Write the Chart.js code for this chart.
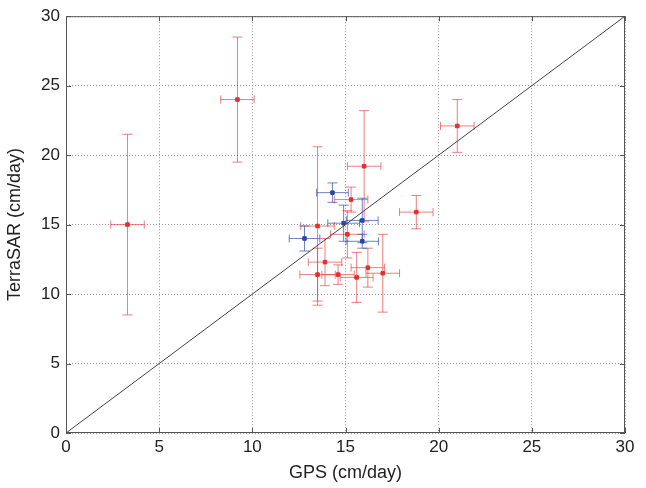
<!DOCTYPE html>
<html>
<head>
<meta charset="utf-8">
<script src="https://cdn.jsdelivr.net/npm/chart.js@4"></script>
<style>
  html, body { margin: 0; padding: 0; background: #fff; }
  #wrap { width: 646px; height: 488px; }
</style>
</head>
<body>
<div id="wrap"><canvas id="grafico" width="646" height="488"></canvas></div>
<script>
// valores (cm/dia)
const gpsRed = [3.3, 9.2, 21.0, 18.8, 16.0, 15.3, 13.5, 15.1, 13.9, 13.5, 14.6, 15.6, 16.2, 17.0];
const tsxRed = [15.0, 24.0, 22.1, 15.9, 19.2, 16.8, 14.9, 14.3, 12.3, 11.4, 11.4, 11.2, 11.9, 11.5];
const gpsRedErr = [0.9, 0.9, 0.9, 0.9, 0.9, 0.9, 0.9, 0.9, 0.9, 0.95, 0.87, 0.88, 0.9, 0.9];
const tsxRedErr = [6.5, 4.5, 1.9, 1.2, 4.0, 0.9, 5.7, 1.7, 1.7, 1.9, 0.7, 1.8, 1.4, 2.8];

const gpsBlue = [14.3, 14.9, 15.9, 12.8, 15.9];
const tsxBlue = [17.3, 15.1, 15.3, 14.0, 13.8];
const gpsBlueErr = [0.85, 0.85, 0.85, 0.82, 0.87];
const tsxBlueErr = [0.7, 1.3, 1.6, 0.9, 0.5];

const axisTicks = [0, 5, 10, 15, 20, 25, 30];

const toPoints = (xs, ys) => xs.map((x, i) => ({ x: x, y: ys[i] }));

// barras de erro desenhadas com as escalas do Chart.js
const errorBars = {
    id: "errorBars",
    beforeDatasetsDraw(chart) {
        const ctx = chart.ctx;
        const xs = chart.scales.x, ys = chart.scales.y;
        chart.data.datasets.forEach(ds => {
            if (!ds.xErr) return;
            ctx.save();
            ctx.strokeStyle = ds.errColor;
            ctx.lineWidth = 1;
            ds.data.forEach((p, i) => {
                const cx = xs.getPixelForValue(p.x), cy = ys.getPixelForValue(p.y);
                const x1 = xs.getPixelForValue(p.x - ds.xErr[i]), x2 = xs.getPixelForValue(p.x + ds.xErr[i]);
                const y1 = ys.getPixelForValue(p.y - ds.yErr[i]), y2 = ys.getPixelForValue(p.y + ds.yErr[i]);
                const cap = 4;
                ctx.beginPath();
                ctx.moveTo(x1, cy); ctx.lineTo(x2, cy);
                ctx.moveTo(x1, cy - cap); ctx.lineTo(x1, cy + cap);
                ctx.moveTo(x2, cy - cap); ctx.lineTo(x2, cy + cap);
                ctx.moveTo(cx, y1); ctx.lineTo(cx, y2);
                ctx.moveTo(cx - cap - 1, y1); ctx.lineTo(cx + cap + 1, y1);
                ctx.moveTo(cx - cap - 1, y2); ctx.lineTo(cx + cap + 1, y2);
                ctx.stroke();
            });
            ctx.restore();
        });
    },
    afterDraw(chart) {
        // caixa e marcas internas estilo MATLAB
        const a = chart.chartArea, ctx = chart.ctx;
        const xs = chart.scales.x, ys = chart.scales.y;
        ctx.save();
        ctx.strokeStyle = "#555";
        ctx.lineWidth = 1;
        ctx.strokeRect(a.left + 0.5, a.top + 0.5, a.right - a.left - 1, a.bottom - a.top - 1);
        ctx.beginPath();
        axisTicks.forEach(v => {
            const px = Math.round(xs.getPixelForValue(v)) + 0.5;
            const py = Math.round(ys.getPixelForValue(v)) + 0.5;
            ctx.moveTo(px, a.bottom); ctx.lineTo(px, a.bottom - 5);
            ctx.moveTo(px, a.top); ctx.lineTo(px, a.top + 5);
            ctx.moveTo(a.left, py); ctx.lineTo(a.left + 5, py);
            ctx.moveTo(a.right, py); ctx.lineTo(a.right - 5, py);
        });
        ctx.stroke();
        ctx.restore();
    }
};

const ctx = document.getElementById("grafico").getContext("2d");
new Chart(ctx, {
    type: "scatter",
    data: {
        datasets: [
            {
                type: "line",
                data: [{ x: 0, y: 0 }, { x: 30, y: 30 }],
                borderColor: "#444",
                borderWidth: 1,
                pointRadius: 0
            },
            {
                data: toPoints(gpsRed, tsxRed),
                xErr: gpsRedErr,
                yErr: tsxRedErr,
                errColor: "rgba(232, 70, 70, 0.7)",
                backgroundColor: "#e62e2e",
                borderColor: "#e62e2e",
                pointStyle: "rect",
                pointRadius: 2.5
            },
            {
                data: toPoints(gpsBlue, tsxBlue),
                xErr: gpsBlueErr,
                yErr: tsxBlueErr,
                errColor: "rgba(60, 90, 180, 0.75)",
                backgroundColor: "#2c47a0",
                borderColor: "#2c47a0",
                pointStyle: "rect",
                pointRadius: 2.5
            }
        ]
    },
    options: {
        animation: false,
        responsive: false,
        layout: { padding: { top: 13, right: 21, left: 0, bottom: 0 } },
        plugins: { legend: { display: false }, tooltip: { enabled: false } },
        scales: {
            x: {
                type: "linear",
                min: 0, max: 30,
                afterBuildTicks: s => { s.ticks = axisTicks.map(v => ({ value: v })); },
                afterFit: s => { s.height = 55; },
                grid: { color: "#9a9a9a", lineWidth: 1, drawTicks: false },
                border: { display: false, dash: [1, 2] },
                ticks: { color: "#222", padding: 4, font: { family: "Liberation Sans", size: 17 }, maxRotation: 0 },
                title: { display: true, text: "GPS (cm/day)", color: "#222", font: { family: "Liberation Sans", size: 18 }, padding: { top: 2 } }
            },
            y: {
                type: "linear",
                min: 0, max: 30,
                afterBuildTicks: s => { s.ticks = axisTicks.map(v => ({ value: v })); },
                afterFit: s => { s.width = 66; },
                grid: { color: "#9a9a9a", lineWidth: 1, drawTicks: false },
                border: { display: false, dash: [1, 2] },
                ticks: { color: "#222", padding: 6, font: { family: "Liberation Sans", size: 17 } },
                title: { display: true, text: "TerraSAR (cm/day)", color: "#222", font: { family: "Liberation Sans", size: 18 }, padding: { top: 4, bottom: 2 } }
            }
        }
    },
    plugins: [errorBars]
});
</script>
</body>
</html>
